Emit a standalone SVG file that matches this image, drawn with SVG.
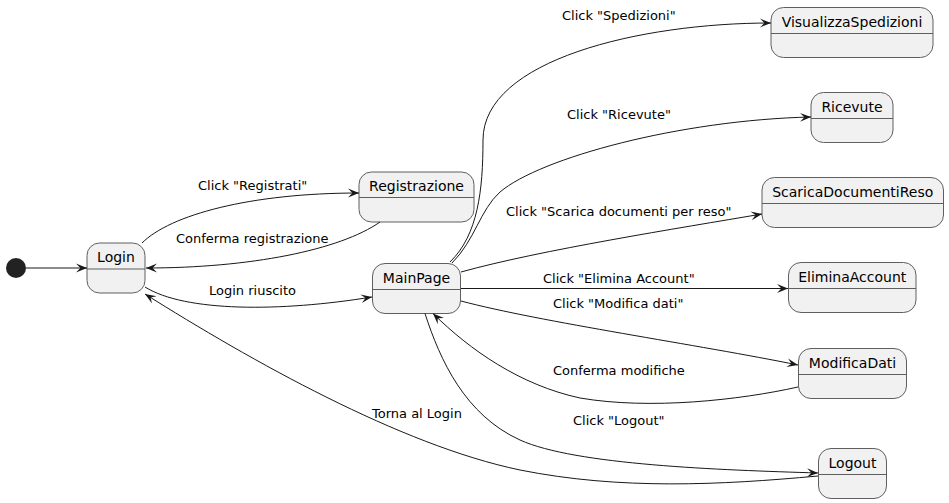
<svg xmlns="http://www.w3.org/2000/svg" width="949" height="503" viewBox="0 0 949 503">
<style>
.node rect{fill:#F1F1F1;stroke:#5F5F5F;stroke-width:1}
.node line{stroke:#5F5F5F;stroke-width:1}
.title{font-family:"DejaVu Sans",sans-serif;font-size:14px;fill:#000;text-anchor:middle}
.lbl{font-family:"DejaVu Sans",sans-serif;font-size:13px;fill:#000}
.edge{fill:none;stroke:#181818;stroke-width:1;marker-end:url(#arr)}
</style>
<defs>
<marker id="arr" viewBox="0 0 10 10" refX="10" refY="5" markerWidth="11" markerHeight="11" markerUnits="userSpaceOnUse" orient="auto">
<path d="M0,1 L10,5 L0,9 L4,5 Z" fill="#181818"/>
</marker>
</defs>
<rect width="949" height="503" fill="#FFFFFF"/>
<g id="start"><circle cx="16" cy="268" r="10" fill="#222222"/></g>
<g id="Login" class="node"><rect x="87" y="243" width="58" height="50" rx="12.5"/><line x1="87" y1="269" x2="145" y2="269"/><text class="title" x="116" y="262">Login</text></g>
<g id="Registrazione" class="node"><rect x="359" y="172" width="115" height="50" rx="12.5"/><line x1="359" y1="197.5" x2="474" y2="197.5"/><text class="title" x="416.5" y="191">Registrazione</text></g>
<g id="MainPage" class="node"><rect x="372.5" y="263.5" width="88" height="50" rx="12.5"/><line x1="372.5" y1="289.5" x2="460.5" y2="289.5"/><text class="title" x="416.5" y="282.5">MainPage</text></g>
<g id="VisualizzaSpedizioni" class="node"><rect x="771" y="7.5" width="162" height="50" rx="12.5"/><line x1="771" y1="33.5" x2="933" y2="33.5"/><text class="title" x="852" y="26.5">VisualizzaSpedizioni</text></g>
<g id="Ricevute" class="node"><rect x="811" y="92.5" width="82" height="50" rx="12.5"/><line x1="811" y1="118.5" x2="893" y2="118.5"/><text class="title" x="852" y="111.5">Ricevute</text></g>
<g id="ScaricaDocumentiReso" class="node"><rect x="762" y="177.5" width="181.5" height="50" rx="12.5"/><line x1="762" y1="203.5" x2="943.5" y2="203.5"/><text class="title" x="852.75" y="196.5">ScaricaDocumentiReso</text></g>
<g id="EliminaAccount" class="node"><rect x="788.5" y="262.5" width="127.5" height="50" rx="12.5"/><line x1="788.5" y1="288.5" x2="916" y2="288.5"/><text class="title" x="852.25" y="281.5">EliminaAccount</text></g>
<g id="ModificaDati" class="node"><rect x="798.5" y="348.5" width="108" height="50" rx="12.5"/><line x1="798.5" y1="374.5" x2="906.5" y2="374.5"/><text class="title" x="852.5" y="367.5">ModificaDati</text></g>
<g id="Logout" class="node"><rect x="818.5" y="448.5" width="68" height="50" rx="12.5"/><line x1="818.5" y1="474.5" x2="886.5" y2="474.5"/><text class="title" x="852.5" y="467.5">Logout</text></g>
<g id="connectors">
<path class="edge" d="M26,268 L87,268"/>
<path class="edge" d="M142,243 C170,215 250,193 359,193"/>
<path class="edge" d="M380,222 C340,250 250,268 146,268"/>
<path class="edge" d="M145,287 C185,312 280,312 372,297"/>
<path class="edge" d="M450,262 C478,235 483,190 483,140 C483,60 640,23 771,23"/>
<path class="edge" d="M452,263 C475,240 480,210 500,192 C540,158 680,120 811,117"/>
<path class="edge" d="M461,272 C540,250 680,228 762,214"/>
<path class="edge" d="M461,288.5 L788,288.5"/>
<path class="edge" d="M461,301 C540,322 700,345 798,365"/>
<path class="edge" d="M798,387 C740,400 650,410 580,398 C520,385 470,350 433,313.5"/>
<path class="edge" d="M425,313.5 C440,360 465,415 520,440 C575,465 720,470 818,473"/>
<path class="edge" d="M818,476 C720,485 620,490 520,470 C400,445 250,360 145,294"/>
</g>
<g id="labels">
<text class="lbl" x="562" y="20">Click "Spedizioni"</text>
<text class="lbl" x="567" y="119">Click "Ricevute"</text>
<text class="lbl" x="198" y="190">Click "Registrati"</text>
<text class="lbl" x="176" y="243">Conferma registrazione</text>
<text class="lbl" x="209" y="295">Login riuscito</text>
<text class="lbl" x="506" y="216">Click "Scarica documenti per reso"</text>
<text class="lbl" x="543" y="283">Click "Elimina Account"</text>
<text class="lbl" x="553" y="308">Click "Modifica dati"</text>
<text class="lbl" x="553" y="375">Conferma modifiche</text>
<text class="lbl" x="573" y="425">Click "Logout"</text>
<text class="lbl" x="372" y="418">Torna al Login</text>
</g>
</svg>
